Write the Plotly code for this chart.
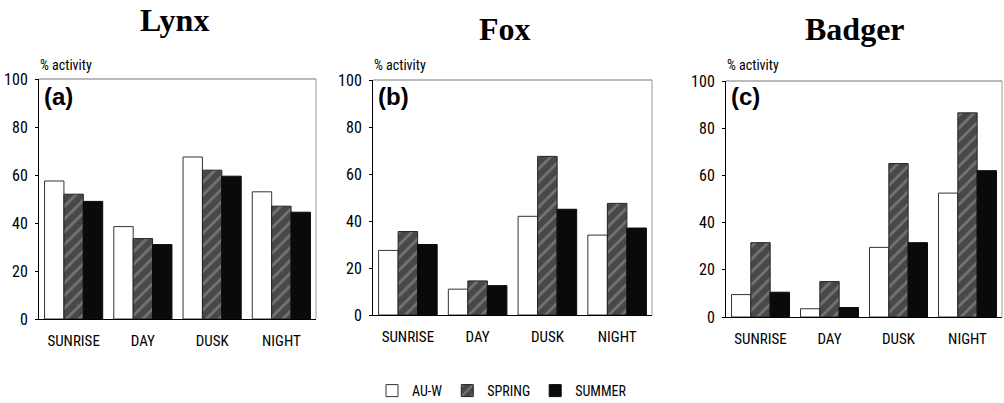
import plotly.graph_objects as go

categories = ["SUNRISE", "DAY", "DUSK", "NIGHT"]
seasons = ["AU-W", "SPRING", "SUMMER"]
titles = ["Lynx", "Fox", "Badger"]
panel_labels = ["(a)", "(b)", "(c)"]
y_ticks = [0, 20, 40, 60, 80, 100]

lynx_auw = [57.5, 38.5, 67.5, 53]
lynx_spring = [52, 33.5, 62, 47]
lynx_summer = [49, 31, 59.5, 44.5]

fox_auw = [27.5, 11, 42, 34]
fox_spring = [35.5, 14.5, 67.5, 47.5]
fox_summer = [30, 12.5, 45, 37]

badger_auw = [9.5, 3.5, 29.5, 52.5]
badger_spring = [31.5, 15, 65, 86.5]
badger_summer = [10.5, 4, 31.5, 62]

panels = [
    [lynx_auw, lynx_spring, lynx_summer],
    [fox_auw, fox_spring, fox_summer],
    [badger_auw, badger_spring, badger_summer],
]

W, H = 1004, 403
# plot-area pixel boxes (left, right, top, bottom)
boxes = [(39, 316, 79, 319), (373, 652, 80, 315), (726, 1002, 81, 317)]
title_pos = [(174, 20), (505, 29), (855, 29)]

SANS = "Roboto Condensed, Roboto, Liberation Sans, sans-serif"

fig = go.Figure()

styles = [
    dict(color="white", line=dict(color="#333", width=1)),
    dict(color="#484848", line=dict(color="#222", width=1),
         pattern=dict(shape="/", bgcolor="#484848", fgcolor="#a0a0a0", size=9, solidity=0.3)),
    dict(color="#0a0a0a", line=dict(color="#0a0a0a", width=1)),
]

layout = dict(
    width=W, height=H,
    margin=dict(l=0, r=0, t=0, b=0, pad=0, autoexpand=False),
    paper_bgcolor="white", plot_bgcolor="white",
    barmode="group", bargap=0.16, bargroupgap=0,
    font=dict(family=SANS, size=15, color="black"),
    showlegend=True,
    legend=dict(orientation="h", x=0.5, xanchor="center", y=(H - 391) / H, yanchor="middle",
                font=dict(family=SANS, size=14, color="black"),
                itemwidth=30, traceorder="normal", tracegroupgap=0,
                bgcolor="rgba(0,0,0,0)"),
)

annotations = []
shapes = []

for i, data in enumerate(panels):
    l, r, t, b = boxes[i]
    suffix = "" if i == 0 else str(i + 1)
    xa, ya = "x" + suffix, "y" + suffix
    for j, vals in enumerate(data):
        fig.add_trace(go.Bar(
            x=categories, y=vals, name=seasons[j],
            marker=styles[j], xaxis=xa, yaxis=ya,
            showlegend=(i == 0), legendgroup=seasons[j],
        ))
    layout["xaxis" + suffix] = dict(
        domain=[l / W, r / W], anchor=ya, type="category", automargin=False,
        showline=True, linecolor="black", linewidth=1,
        ticks="", showgrid=False, zeroline=False,
        tickfont=dict(family=SANS, size=15), ticklabelstandoff=8,
    )
    layout["yaxis" + suffix] = dict(
        domain=[(H - b) / H, (H - t) / H], anchor=xa, range=[0, 100], automargin=False,
        tickvals=y_ticks, showline=True, linecolor="black", linewidth=1,
        ticks="outside", ticklen=3, tickcolor="black",
        showgrid=False, zeroline=False,
        tickfont=dict(family=SANS, size=16), ticklabelstandoff=4,
    )
    # top/right frame lines (gray)
    shapes.append(dict(type="line", xref=xa + " domain", yref=ya + " domain",
                       x0=0, x1=1, y0=1, y1=1, line=dict(color="#777", width=1)))
    shapes.append(dict(type="line", xref=xa + " domain", yref=ya + " domain",
                       x0=1, x1=1, y0=0, y1=1, line=dict(color="#999", width=1)))
    # titles
    tx, ty = title_pos[i]
    annotations.append(dict(text="<b>" + titles[i] + "</b>", x=tx / W, y=(H - ty) / H,
                            xref="paper", yref="paper", xanchor="center", yanchor="middle",
                            showarrow=False,
                            font=dict(family="Liberation Serif, Times New Roman, serif", size=32, color="black")))
    # y-axis caption
    annotations.append(dict(text="% activity", x=(l - 1) / W, y=(H - 65) / H,
                            xref="paper", yref="paper", xanchor="left", yanchor="middle",
                            showarrow=False, font=dict(family=SANS, size=14, color="black")))
    # panel label
    annotations.append(dict(text="<b>" + panel_labels[i] + "</b>", x=(l + 3) / W, y=(H - 96) / H,
                            xref="paper", yref="paper", xanchor="left", yanchor="middle",
                            showarrow=False,
                            font=dict(family="Liberation Sans, Arial, sans-serif", size=24, color="black")))

layout["annotations"] = annotations
layout["shapes"] = shapes
fig.update_layout(**layout)
fig.write_html(
    "out.html",
    config={"displayModeBar": False},
    post_script="document.body.style.margin='0';document.body.style.padding='0';"
                "document.body.style.overflow='hidden';",
)
